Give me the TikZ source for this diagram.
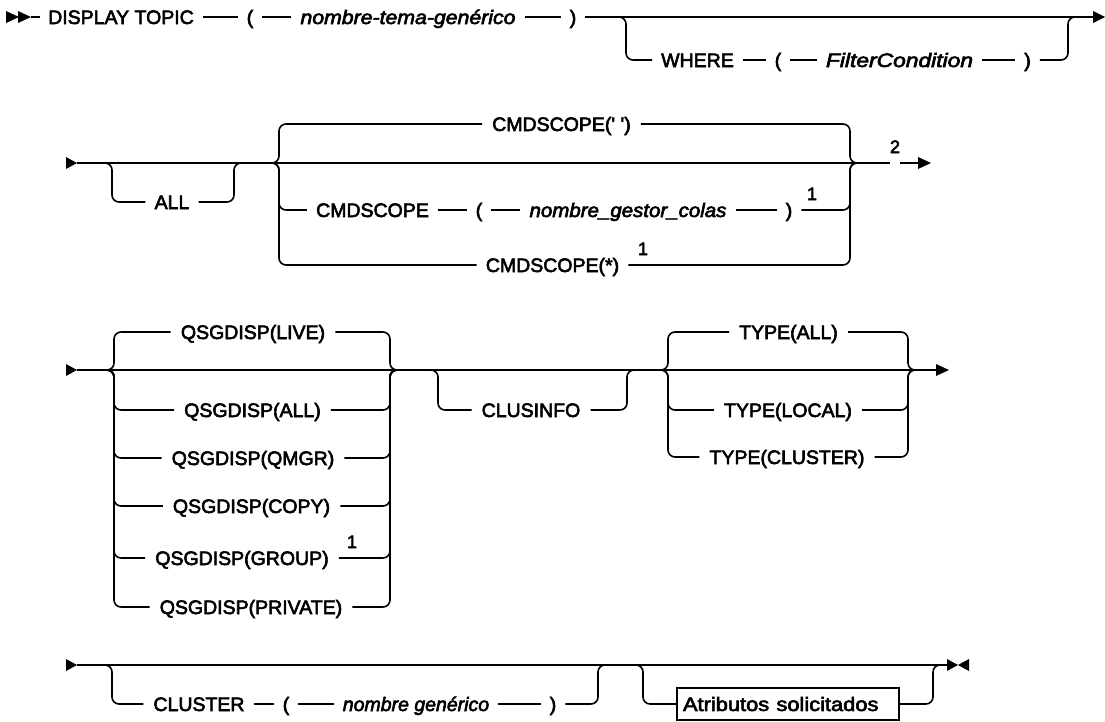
\documentclass[tikz,border=0pt]{standalone}
\usepackage{fontspec}
\usepackage{graphicx}
\newfontfamily\labfont{Liberation Sans}[Ligatures=TeXOff,FakeBold=3]
\newcommand\seg[2]{\draw[ln] ([xshift=9pt,yshift=7pt]#1.base east) -- ([xshift=-9pt,yshift=7pt]#2.base west);}
\newcommand\wid[2]{\scalebox{#1}[1]{#2}}
\begin{document}
\begin{tikzpicture}[x=1pt,y=-1pt,
  ln/.style={line width=1.6pt},
  rc/.style={ln,rounded corners=7pt},
  txt/.style={anchor=base,inner sep=0pt,font=\labfont\fontsize{19.5}{23}\selectfont},
  itx/.style={txt,font=\labfont\itshape\fontsize{19.5}{23}\selectfont},
  fnt/.style={anchor=base,inner sep=0pt,font=\labfont\fontsize{18}{21}\selectfont},
  boxed/.style={draw,line width=1.6pt,inner xsep=6pt,inner ysep=0pt,text width=210pt,align=left,minimum height=32pt,font=\labfont\fontsize{19.5}{23}\selectfont}]
\useasboundingbox (0,0) rectangle (1105,721);
% ---------- row 1
\fill (6,11) -- (19,17) -- (6,23) -- cycle;
\fill (18,11) -- (31,17) -- (18,23) -- cycle;
\coordinate (a1) at (31,17);
\node[txt] (disp) at (121,24) {DISPLAY TOPIC};
\node[txt] (lp1) at (250,24) {(};
\node[itx] (nt) at (408,24) {\wid{1.09}{nombre-tema-genérico}};
\node[txt] (rp1) at (573,24) {)};
\draw[ln] (a1) -- ([xshift=-8pt,yshift=7pt]disp.base west);
\seg{disp}{lp1}\seg{lp1}{nt}\seg{nt}{rp1}
\coordinate (e1) at (1093,17);
\draw[ln] ([xshift=9pt,yshift=7pt]rp1.base east) -- (e1);
\fill (1093,11) -- (1105,17) -- (1093,23) -- cycle;
\node[txt] (where) at (697.5,67) {WHERE};
\node[txt] (lp2) at (778,67) {(};
\node[itx] (fc) at (899.5,67) {\wid{1.17}{FilterCondition}};
\node[txt] (rp2) at (1027.5,67) {)};
\draw[rc] (612,17) -| (626,60) -- ([xshift=-9pt,yshift=7pt]where.base west);
\seg{where}{lp2}\seg{lp2}{fc}\seg{fc}{rp2}
\draw[rc] ([xshift=9pt,yshift=7pt]rp2.base east) -| (1068,17) -- (1082,17);
% ---------- row 2
\coordinate (m2) at (77,163);
\fill (66,157) -- (77,163) -- (66,169) -- cycle;
\node[fnt] (n2) at (895,153) {2};
\draw[ln] (m2) -- (m2 -| n2.west);
\draw[ln] (m2 -| n2.east) -- (918,163);
\fill (918,157) -- (931,163) -- (918,169) -- cycle;
\node[txt] (all) at (172,209) {ALL};
\draw[rc] (100,163) -| (112,202) -- ([xshift=-9pt,yshift=7pt]all.base west);
\draw[rc] ([xshift=9pt,yshift=7pt]all.base east) -| (234,163) -- (246,163);
\node[txt] (cs1) at (561.5,131) {CMDSCOPE(' ')};
\node[txt] (cs2) at (372.5,217) {CMDSCOPE};
\node[txt] (lp3) at (479,217) {(};
\node[itx] (ngc) at (628,217) {\wid{1.05}{nombre\_gestor\_colas}};
\node[txt] (rp3) at (789,217) {)};
\node[fnt] (f1a) at (812,200) {1};
\node[txt] (cs3) at (552.5,272) {CMDSCOPE(*)};
\node[fnt] (f1b) at (643,255) {1};
\draw[rc] (267,163) -| (279,124) -- ([xshift=-10pt,yshift=7pt]cs1.base west);
\draw[rc] (267,163) -| (279,210) -- ([xshift=-9pt,yshift=7pt]cs2.base west);
\draw[rc] (267,163) -| (279,265) -- ([xshift=-9pt,yshift=7pt]cs3.base west);
\seg{cs2}{lp3}\seg{lp3}{ngc}\seg{ngc}{rp3}
\draw[rc] ([xshift=10pt,yshift=7pt]cs1.base east) -| (850,163) -- (862,163);
\draw[rc] ([xshift=9pt,yshift=7pt]rp3.base east) -| (850,163) -- (862,163);
\draw[rc] ([xshift=9pt,yshift=7pt]cs3.base east) -| (850,163) -- (862,163);
% ---------- row 3
\coordinate (m3) at (77,370);
\fill (66,364) -- (77,370) -- (66,376) -- cycle;
\draw[ln] (m3) -- (936,370);
\fill (936,364) -- (949,370) -- (936,376) -- cycle;
\node[txt] (live) at (253,339) {QSGDISP(LIVE)};
\node[txt] (qall) at (252.5,417) {QSGDISP(ALL)};
\node[txt] (qmgr) at (253,465) {QSGDISP(QMGR)};
\node[txt] (qcopy) at (251.5,513) {QSGDISP(COPY)};
\node[txt] (qgrp) at (242,565) {QSGDISP(GROUP)};
\node[fnt] (f1c) at (352,548) {1};
\node[txt] (qpriv) at (251,614) {QSGDISP(PRIVATE)};
\foreach \n/\yy in {live/332,qall/410,qmgr/458,qcopy/506,qgrp/558,qpriv/607}{
  \draw[rc] (102,370) -| (114,\yy) -- ([xshift=-10pt,yshift=7pt]\n.base west);
  \draw[rc] ([xshift=10pt,yshift=7pt]\n.base east) -| (390,370) -- (402,370);
}
\node[txt] (clus) at (531,417) {CLUSINFO};
\draw[rc] (426,370) -| (438,410) -- ([xshift=-10pt,yshift=7pt]clus.base west);
\draw[rc] ([xshift=10pt,yshift=7pt]clus.base east) -| (627,370) -- (639,370);
\node[txt] (tall) at (788.5,339) {TYPE(ALL)};
\node[txt] (tloc) at (788,417) {TYPE(LOCAL)};
\node[txt] (tclu) at (787,464) {TYPE(CLUSTER)};
\foreach \n/\yy in {tall/332,tloc/410,tclu/457}{
  \draw[rc] (656,370) -| (668,\yy) -- ([xshift=-10pt,yshift=7pt]\n.base west);
  \draw[rc] ([xshift=10pt,yshift=7pt]\n.base east) -| (908,370) -- (920,370);
}
% ---------- row 4
\coordinate (m4) at (77,665);
\fill (66,659) -- (77,665) -- (66,671) -- cycle;
\draw[ln] (m4) -- (947,665);
\fill (947,659) -- (958,665) -- (947,671) -- cycle;
\fill (969,659) -- (958,665) -- (969,671) -- cycle;
\node[txt] (cl) at (199,711) {CLUSTER};
\node[txt] (lp4) at (286,711) {(};
\node[itx] (ng) at (416,711) {nombre genérico};
\node[txt] (rp4) at (553,711) {)};
\draw[rc] (100,665) -| (112,704) -- ([xshift=-10pt,yshift=7pt]cl.base west);
\seg{cl}{lp4}\seg{lp4}{ng}\seg{ng}{rp4}
\draw[rc] ([xshift=9pt,yshift=7pt]rp4.base east) -| (598,665) -- (610,665);
\node[boxed] (attr) at (788,704) {\wid{1.12}{Atributos solicitados}};
\draw[rc] (631,665) -| (643,704) -- (attr.west);
\draw[rc] (attr.east) -| (933,665) -- (945,665);
\end{tikzpicture}
\end{document}
